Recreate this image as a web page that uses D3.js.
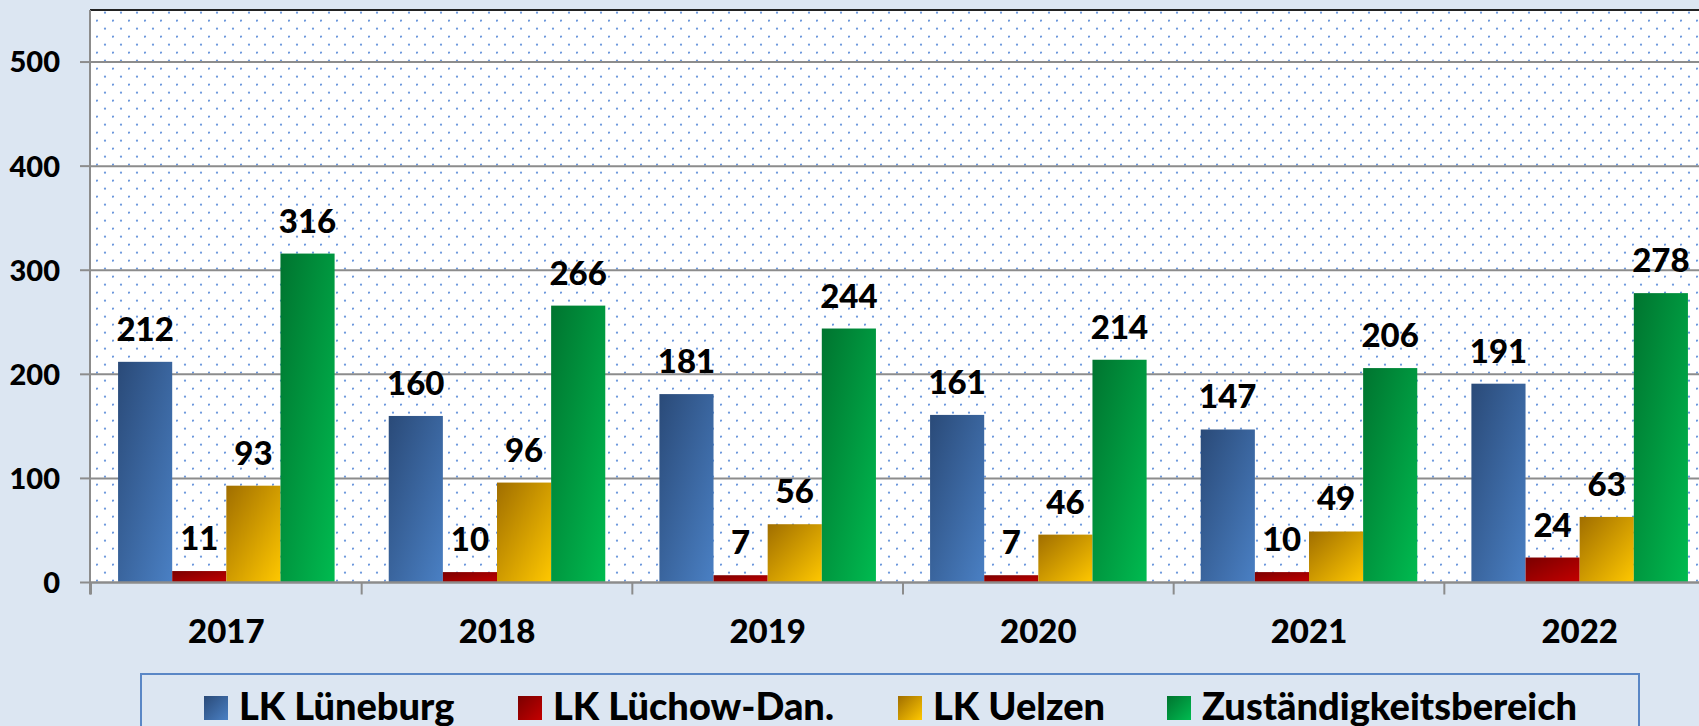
<!DOCTYPE html>
<html>
<head>
<meta charset="utf-8">
<script src="https://cdn.jsdelivr.net/npm/d3@7"></script>
<style>
  html, body { margin: 0; padding: 0; background: #dce6f2; overflow: hidden; }
  text { font-family: Lato, "Open Sans", sans-serif; font-weight: 900; fill: #000; }
</style>
</head>
<body>
<div id="chart"></div>
<script>
const years = ["2017", "2018", "2019", "2020", "2021", "2022"];
const seriesNames = ["LK Lüneburg", "LK Lüchow-Dan.", "LK Uelzen", "Zuständigkeitsbereich"];
const lueneburg = [212, 160, 181, 161, 147, 191];
const luechow = [11, 10, 7, 7, 10, 24];
const uelzen = [93, 96, 56, 46, 49, 63];
const bereich = [316, 266, 244, 214, 206, 278];
const yTicks = [0, 100, 200, 300, 400, 500];

const seriesValues = [lueneburg, luechow, uelzen, bereich];

var width = 1699,
    height = 726;

// colours: [dark corner, light corner]
const gradColors = [
  ["#2a4a78", "#4a80c4"],
  ["#7a0000", "#c40000"],
  ["#a06e00", "#ffc800"],
  ["#00742f", "#00bb50"]
];

const svg = d3.select("#chart")
  .append("svg")
  .attr("width", width)
  .attr("height", height);

const defs = svg.append("defs");

const pat = defs.append("pattern")
  .attr("id", "dots")
  .attr("patternUnits", "userSpaceOnUse")
  .attr("width", 16)
  .attr("height", 16);
pat.append("rect").attr("width", 16).attr("height", 16).attr("fill", "#fff");
pat.append("circle").attr("cx", 9).attr("cy", 12.7).attr("r", 1.1).attr("fill", "#6b97dc");
pat.append("circle").attr("cx", 1).attr("cy", 4.6).attr("r", 1.1).attr("fill", "#6b97dc");

gradColors.forEach((c, i) => {
  const g = defs.append("linearGradient")
    .attr("id", "grad" + i)
    .attr("x1", 0).attr("y1", 0).attr("x2", 1).attr("y2", 1);
  g.append("stop").attr("offset", "0%").attr("stop-color", c[0]);
  g.append("stop").attr("offset", "100%").attr("stop-color", c[1]);
});

const plotLeft = 91, plotRight = 1715, plotTop = 10;

const y = d3.scaleLinear().domain([0, 550]).range([582.5, plotTop]);
const x0 = d3.scaleBand().domain(years).range([plotLeft, plotRight]).padding(0);
const x1 = d3.scaleBand().domain(d3.range(seriesNames.length))
  .range([x0.bandwidth() * 0.1, x0.bandwidth() * 0.9]).padding(0);

// plot area
svg.append("rect")
  .attr("x", plotLeft).attr("y", plotTop)
  .attr("width", plotRight - plotLeft).attr("height", y(0) - plotTop)
  .attr("fill", "url(#dots)");

// gridlines
svg.append("g").selectAll("line").data(yTicks.filter(d => d > 0)).enter()
  .append("line")
  .attr("x1", plotLeft).attr("x2", plotRight)
  .attr("y1", d => y(d)).attr("y2", d => y(d))
  .attr("stroke", "#8c8c8c").attr("stroke-width", 2);

// top border
svg.append("line")
  .attr("x1", plotLeft - 1).attr("x2", plotRight)
  .attr("y1", plotTop).attr("y2", plotTop)
  .attr("stroke", "#222").attr("stroke-width", 2.2);

// bars
const groups = svg.append("g").selectAll("g").data(years).enter()
  .append("g")
  .attr("transform", d => "translate(" + x0(d) + ",0)");

groups.selectAll("rect")
  .data((d, i) => seriesValues.map((s, k) => ({ k: k, v: s[i] })))
  .enter()
  .append("rect")
  .attr("x", d => x1(d.k))
  .attr("width", x1.bandwidth())
  .attr("y", d => y(d.v))
  .attr("height", d => y(0) - y(d.v))
  .attr("fill", d => "url(#grad" + d.k + ")");

groups.selectAll("text")
  .data((d, i) => seriesValues.map((s, k) => ({ k: k, v: s[i] })))
  .enter()
  .append("text")
  .attr("x", d => x1(d.k) + x1.bandwidth() / 2)
  .attr("y", d => y(d.v) - 21)
  .attr("text-anchor", "middle")
  .style("font-size", "33px")
  .text(d => d.v);

// y axis
svg.append("line")
  .attr("x1", plotLeft - 1).attr("x2", plotLeft - 1)
  .attr("y1", plotTop).attr("y2", y(0) + 12)
  .attr("stroke", "#8c8c8c").attr("stroke-width", 2);

svg.append("g").selectAll("line").data(yTicks).enter()
  .append("line")
  .attr("x1", plotLeft - 11).attr("x2", plotLeft)
  .attr("y1", d => y(d)).attr("y2", d => y(d))
  .attr("stroke", "#8c8c8c").attr("stroke-width", 2);

svg.append("g").selectAll("text").data(yTicks).enter()
  .append("text")
  .attr("x", 60)
  .attr("y", d => y(d))
  .attr("dy", "0.36em")
  .attr("text-anchor", "end")
  .style("font-size", "29px")
  .text(d => d);

// x axis
svg.append("line")
  .attr("x1", plotLeft - 1).attr("x2", plotRight)
  .attr("y1", y(0)).attr("y2", y(0))
  .attr("stroke", "#8c8c8c").attr("stroke-width", 2.5);

svg.append("g").selectAll("line").data(years).enter()
  .append("line")
  .attr("x1", d => x0(d)).attr("x2", d => x0(d))
  .attr("y1", y(0)).attr("y2", y(0) + 12)
  .attr("stroke", "#8c8c8c").attr("stroke-width", 2);

svg.append("g").selectAll("text").data(years).enter()
  .append("text")
  .attr("x", d => x0(d) + x0.bandwidth() / 2)
  .attr("y", 643)
  .attr("text-anchor", "middle")
  .style("font-size", "33px")
  .text(d => d);

// legend
svg.append("rect")
  .attr("x", 141).attr("y", 674)
  .attr("width", 1498).attr("height", 100)
  .attr("fill", "none")
  .attr("stroke", "#5a87c6").attr("stroke-width", 2);

const legendX = [204, 518, 898, 1167];
const lg = svg.append("g").selectAll("g").data(seriesNames).enter()
  .append("g")
  .attr("transform", (d, i) => "translate(" + legendX[i] + ",696)");

lg.append("rect")
  .attr("width", 24).attr("height", 24)
  .attr("fill", (d, i) => "url(#grad" + i + ")");

lg.append("text")
  .attr("x", 35)
  .attr("y", 24)
  .style("font-size", "38px")
  .text(d => d);
</script>
</body>
</html>
